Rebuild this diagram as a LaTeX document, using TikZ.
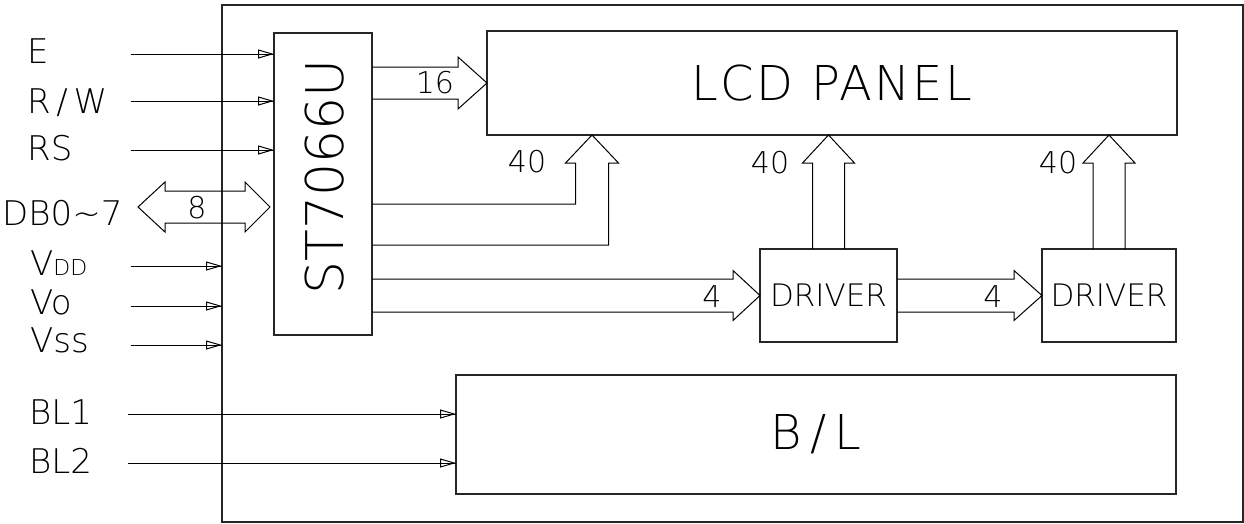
\documentclass[tikz,border=0pt]{standalone}
\usepackage{fontspec}
\setmainfont{DejaVuSans-ExtraLight.ttf}
\usetikzlibrary{arrows.meta,calc}
\begin{document}
\begin{tikzpicture}[x=1pt,y=-1pt,
  box/.style={draw=black!85, line width=1.2pt, inner sep=0pt, outer sep=0pt, anchor=center},
  bus/.style={draw=black, line width=1pt, line join=miter},
  sig/.style={draw=black, line width=1pt,
    postaction={draw, -{Triangle[open, length=16pt, width=9pt, line width=1pt]}}},
  lbl/.style={font=\fontsize{34}{34}\selectfont, inner sep=0pt, anchor=base west},
  num/.style={font=\fontsize{30}{30}\selectfont, inner sep=0pt},
  bigtxt/.style={font=\fontsize{48}{48}\selectfont\addfontfeatures{LetterSpace=5}},
  drvtxt/.style={font=\fontsize{31}{31}\selectfont}]
\useasboundingbox (0,0) rectangle (1244,523);

% boxes
\node[box, minimum width=1021pt, minimum height=517pt] (outer) at (732.5,263.5) {};
\node[box, minimum width=98pt, minimum height=302pt] (st) at (323,184) {};
\node[font=\fontsize{52}{52}\selectfont, rotate=90, inner sep=0pt] (stl) at (325,177) {ST7066U};
\node[box, minimum width=690pt, minimum height=104pt, bigtxt] (lcd) at (832,83) {LCD PANEL};
\node[box, minimum width=137pt, minimum height=93pt, drvtxt] (d1) at (828.5,295.5) {DRIVER};
\node[box, minimum width=134pt, minimum height=93pt, drvtxt] (d2) at (1109,295.5) {DRIVER};
\node[box, minimum width=720pt, minimum height=119pt, bigtxt] (bl) at (816,434.5) {B\,/\,L};

% left labels
\node[lbl] (lE) at (27,63) {E};
\node[lbl] (lRW) at (27,113) {R\,/\,W};
\node[lbl] (lRS) at (27,160) {RS};
\node[lbl] (lDB) at (2,225) {DB0\textasciitilde7};
\node[lbl] (lVDD) at (30,275) {V{\fontsize{22}{22}\selectfont DD}};
\node[lbl] (lVo) at (30,314) {Vo};
\node[lbl] (lVss) at (30,352) {Vss};
\node[lbl] (lBL1) at (29,424) {BL1};
\node[lbl] (lBL2) at (29,473) {BL2};

% single signal inputs
\coordinate (sE) at (131,54);
\coordinate (sRW) at (131,101);
\coordinate (sRS) at (131,150);
\coordinate (sVDD) at (131,266);
\coordinate (sVo) at (131,306);
\coordinate (sVss) at (131,345);
\coordinate (sB1) at (128,414);
\coordinate (sB2) at (128,463);
\draw[sig] (sE) -- (sE -| st.west);
\draw[sig] (sRW) -- (sRW -| st.west);
\draw[sig] (sRS) -- (sRS -| st.west);
\draw[sig] (sVDD) -- (sVDD -| outer.west);
\draw[sig] (sVo) -- (sVo -| outer.west);
\draw[sig] (sVss) -- (sVss -| outer.west);
\draw[sig] (sB1) -- (sB1 -| bl.west);
\draw[sig] (sB2) -- (sB2 -| bl.west);

% data bus double arrow
\coordinate (dbL) at (138,207);
\coordinate (dbR) at ($(st.west |- dbL)+(-4,0)$);
\draw[bus] let \p1=(dbL), \p2=(dbR) in
  (\p1) -- (\x1+27pt,\y1+25pt) -- (\x1+27pt,\y1+16pt) -- (\x2-25pt,\y1+16pt)
  -- (\x2-25pt,\y1+25pt) -- (\p2) -- (\x2-25pt,\y1-25pt) -- (\x2-25pt,\y1-16pt)
  -- (\x1+27pt,\y1-16pt) -- (\x1+27pt,\y1-25pt) -- cycle;
\node[num] (n8) at (197,208) {8};

% 16 bus to LCD
\draw[bus] let \p1=(st.east), \p2=(lcd.west) in
  (\x1,\y2+16pt) -- (\x2-29pt,\y2+16pt) -- (\x2-29pt,\y2+26pt) -- (\p2)
  -- (\x2-29pt,\y2-26pt) -- (\x2-29pt,\y2-16pt) -- (\x1,\y2-16pt);
\node[num] (n16) at (435,83) {16};

% 40 bus from ST7066U to LCD
\coordinate (t40) at ($(lcd.south west)+(105,0)$);
\draw[bus] let \p1=(st.east), \p2=(t40) in
  (\x1,\y1-20pt) -- (\x2-16.5pt,\y1-20pt) -- (\x2-16.5pt,\y2-28pt) -- (\x2-26.5pt,\y2-28pt)
  -- (\p2) -- (\x2+26.5pt,\y2-28pt) -- (\x2+16.5pt,\y2-28pt) -- (\x2+16.5pt,\y1-61pt)
  -- (\x1,\y1-61pt);
\node[num] (n40a) at (527,162) {40};

% 4 bus from ST7066U to driver 1
\draw[bus] let \p1=(st.east), \p2=(d1.west) in
  (\x1,\y2+16.5pt) -- (\x2-27pt,\y2+16.5pt) -- (\x2-27pt,\y2+25pt) -- (\p2)
  -- (\x2-27pt,\y2-25pt) -- (\x2-27pt,\y2-16.5pt) -- (\x1,\y2-16.5pt);
\node[num] (n4a) at (712,297) {4};

% 4 bus from driver 1 to driver 2
\draw[bus] let \p1=(d1.east), \p2=(d2.west) in
  (\x1,\y2+16.5pt) -- (\x2-28pt,\y2+16.5pt) -- (\x2-28pt,\y2+25pt) -- (\p2)
  -- (\x2-28pt,\y2-25pt) -- (\x2-28pt,\y2-16.5pt) -- (\x1,\y2-16.5pt);
\node[num] (n4b) at (993,297) {4};

% 40 buses from drivers to LCD
\draw[bus] let \p1=(d1.north), \p2=(d1.north |- lcd.south) in
  (\x1-16pt,\y1) -- (\x1-16pt,\y2-28pt) -- (\x1-26pt,\y2-28pt) -- (\p2)
  -- (\x1+26pt,\y2-28pt) -- (\x1+16pt,\y2-28pt) -- (\x1+16pt,\y1);
\node[num] (n40b) at (770,163) {40};
\draw[bus] let \p1=(d2.north), \p2=(d2.north |- lcd.south) in
  (\x1-16pt,\y1) -- (\x1-16pt,\y2-28pt) -- (\x1-26pt,\y2-28pt) -- (\p2)
  -- (\x1+26pt,\y2-28pt) -- (\x1+16pt,\y2-28pt) -- (\x1+16pt,\y1);
\node[num] (n40c) at (1058,163) {40};
\end{tikzpicture}
\end{document}
